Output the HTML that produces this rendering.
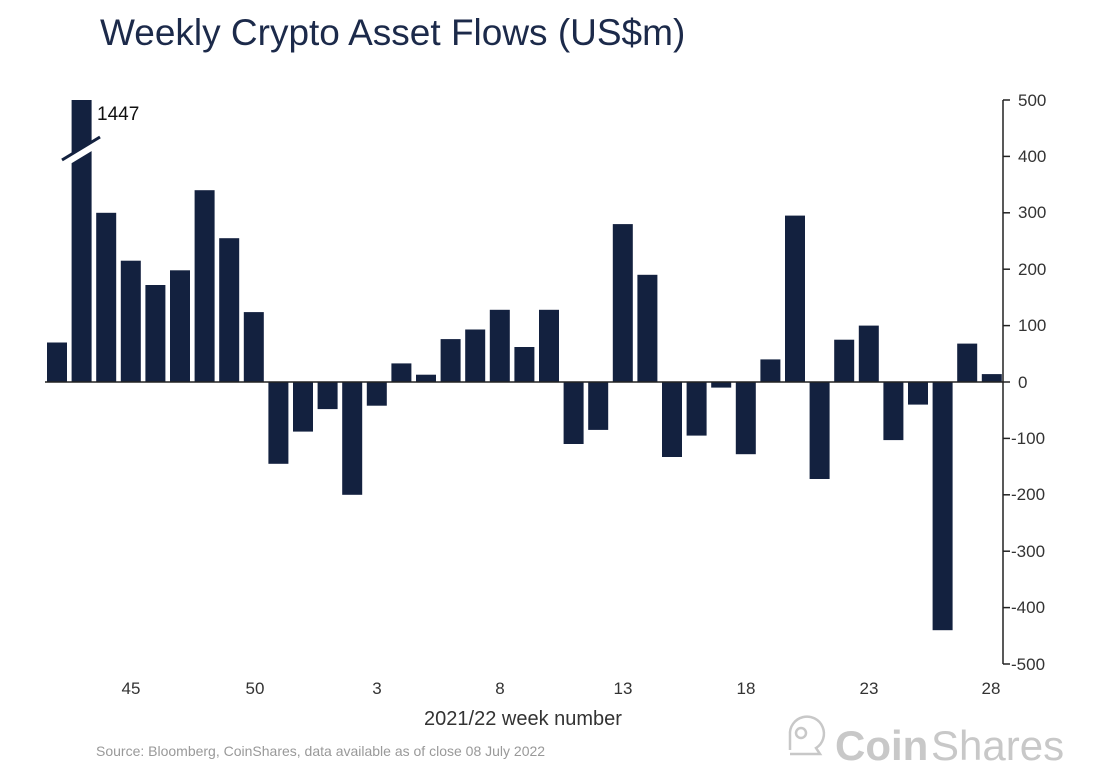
<!DOCTYPE html>
<html><head><meta charset="utf-8"><style>
html,body{margin:0;padding:0;background:#fff;}
svg text{font-family:"Liberation Sans",sans-serif;}
</style></head><body>
<svg width="1100" height="775" xmlns="http://www.w3.org/2000/svg">
<text x="100" y="45" font-size="37" fill="#1c2a4a">Weekly Crypto Asset Flows (US$m)</text>
<g fill="#13213f">
<rect x="47" y="342.5" width="20" height="39.5"/>
<rect x="71.6" y="100" width="20" height="282"/>
<rect x="96.2" y="212.8" width="20" height="169.2"/>
<rect x="120.8" y="260.7" width="20" height="121.3"/>
<rect x="145.4" y="285" width="20" height="97"/>
<rect x="170" y="270.3" width="20" height="111.7"/>
<rect x="194.6" y="190.2" width="20" height="191.8"/>
<rect x="219.2" y="238.2" width="20" height="143.8"/>
<rect x="243.8" y="312.1" width="20" height="69.9"/>
<rect x="268.4" y="382" width="20" height="81.8"/>
<rect x="293" y="382" width="20" height="49.6"/>
<rect x="317.6" y="382" width="20" height="27.1"/>
<rect x="342.2" y="382" width="20" height="112.8"/>
<rect x="366.8" y="382" width="20" height="23.7"/>
<rect x="391.4" y="363.4" width="20" height="18.6"/>
<rect x="416" y="374.7" width="20" height="7.3"/>
<rect x="440.6" y="339.1" width="20" height="42.9"/>
<rect x="465.2" y="329.5" width="20" height="52.5"/>
<rect x="489.8" y="309.8" width="20" height="72.2"/>
<rect x="514.4" y="347" width="20" height="35"/>
<rect x="539" y="309.8" width="20" height="72.2"/>
<rect x="563.6" y="382" width="20" height="62"/>
<rect x="588.2" y="382" width="20" height="47.9"/>
<rect x="612.8" y="224.1" width="20" height="157.9"/>
<rect x="637.4" y="274.8" width="20" height="107.2"/>
<rect x="662" y="382" width="20" height="75"/>
<rect x="686.6" y="382" width="20" height="53.6"/>
<rect x="711.2" y="382" width="20" height="5.6"/>
<rect x="735.8" y="382" width="20" height="72.2"/>
<rect x="760.4" y="359.4" width="20" height="22.6"/>
<rect x="785" y="215.6" width="20" height="166.4"/>
<rect x="809.6" y="382" width="20" height="97"/>
<rect x="834.2" y="339.7" width="20" height="42.3"/>
<rect x="858.8" y="325.6" width="20" height="56.4"/>
<rect x="883.4" y="382" width="20" height="58.1"/>
<rect x="908" y="382" width="20" height="22.6"/>
<rect x="932.6" y="382" width="20" height="248.2"/>
<rect x="957.2" y="343.6" width="20" height="38.4"/>
<rect x="981.8" y="374.1" width="20" height="7.9"/>
</g>
<polygon points="62,160 100,137 100,146 62,169" fill="#fff"/>
<line x1="62" y1="160" x2="100" y2="137" stroke="#13213f" stroke-width="3"/>
<text x="97" y="120" font-size="19" fill="#111">1447</text>
<line x1="45" y1="382" x2="1003" y2="382" stroke="#222" stroke-width="1.5"/>
<line x1="1003" y1="100" x2="1003" y2="664" stroke="#222" stroke-width="1.5"/>
<g stroke="#222" stroke-width="1.5">
<line x1="1003" y1="100" x2="1010" y2="100"/><line x1="1003" y1="156.4" x2="1010" y2="156.4"/>
<line x1="1003" y1="212.8" x2="1010" y2="212.8"/><line x1="1003" y1="269.2" x2="1010" y2="269.2"/>
<line x1="1003" y1="325.6" x2="1010" y2="325.6"/><line x1="1003" y1="382" x2="1010" y2="382"/>
<line x1="1003" y1="438.4" x2="1010" y2="438.4"/><line x1="1003" y1="494.8" x2="1010" y2="494.8"/>
<line x1="1003" y1="551.2" x2="1010" y2="551.2"/><line x1="1003" y1="607.6" x2="1010" y2="607.6"/>
<line x1="1003" y1="664" x2="1010" y2="664"/>
</g>
<g font-size="17" fill="#333">
<text x="1018" y="106">500</text><text x="1018" y="162">400</text><text x="1018" y="218">300</text>
<text x="1018" y="275">200</text><text x="1018" y="331">100</text><text x="1018" y="388">0</text>
<text x="1011" y="444">-100</text><text x="1011" y="500">-200</text><text x="1011" y="557">-300</text>
<text x="1011" y="613">-400</text><text x="1011" y="670">-500</text>
</g>
<g font-size="17" fill="#333" text-anchor="middle">
<text x="131" y="694">45</text><text x="255" y="694">50</text><text x="377" y="694">3</text>
<text x="500" y="694">8</text><text x="623" y="694">13</text><text x="746" y="694">18</text>
<text x="869" y="694">23</text><text x="991" y="694">28</text>
</g>
<text x="523" y="725" font-size="20" fill="#333" text-anchor="middle">2021/22 week number</text>
<text x="96" y="756" font-size="14" fill="#999">Source: Bloomberg, CoinShares, data available as of close 08 July 2022</text>
<g stroke="#c8c8c8" stroke-width="2.5" fill="none">
<path d="M790,750 L790,735 A17,17 0 1 1 816,748 L820,754 L790,754"/>
<circle cx="801" cy="733" r="5"/>
</g>
<text x="835" y="760" font-size="42" font-weight="bold" fill="#c8c8c8">Coin</text>
<text x="931" y="760" font-size="42" fill="#c8c8c8">Shares</text>
</svg>
</body></html>
